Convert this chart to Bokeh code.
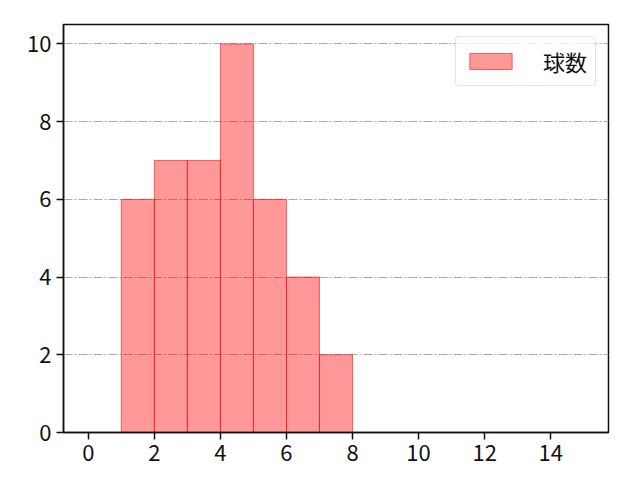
from bokeh.plotting import figure
from bokeh.models import FixedTicker, Range1d, Legend, LegendItem
from bokeh.embed import file_html
from bokeh.resources import INLINE

# histogram data: bin edges and counts
bin_edges = [1, 2, 3, 4, 5, 6, 7, 8]
counts = [6, 7, 7, 10, 6, 4, 2]
series_name = "球数"
x_ticks = [0, 2, 4, 6, 8, 10, 12, 14]
y_ticks = [0, 2, 4, 6, 8, 10]

FONT = "Noto Sans CJK JP"

p = figure(width=624, height=472, output_backend="svg", toolbar_location=None,
           x_range=Range1d(-0.75, 15.75), y_range=Range1d(0, 10.5),
           min_border_left=63, min_border_right=16, min_border_top=24,
           min_border_bottom=40)

bars = p.quad(left=bin_edges[:-1], right=bin_edges[1:], bottom=0, top=counts,
              fill_color="red", fill_alpha=0.4,
              line_color="red", line_alpha=0.55, line_width=1)

p.outline_line_color = "#111111"
p.outline_line_width = 1.5
p.outline_line_alpha = 1

for ax in (p.xaxis[0], p.yaxis[0]):
    ax.axis_line_color = "#111111"
    ax.axis_line_width = 1.5
    ax.major_tick_line_color = "#111111"
    ax.major_tick_line_width = 1.5
    ax.major_tick_out = 7
    ax.major_tick_in = 0
    ax.minor_tick_line_color = None
    ax.major_label_text_font = FONT
    ax.major_label_text_font_size = "22px"
    ax.major_label_text_color = "#111111"
    ax.major_label_standoff = 5

p.xaxis.ticker = FixedTicker(ticks=x_ticks)
p.yaxis.ticker = FixedTicker(ticks=y_ticks)

p.xgrid.grid_line_color = None
p.ygrid.grid_line_color = "#aaaaaa"
p.ygrid.grid_line_dash = "9 2 2 2"
p.ygrid.grid_line_width = 1

legend = Legend(items=[LegendItem(label=series_name, renderers=[bars])],
                location="top_right")
legend.label_text_font = FONT
legend.label_text_font_size = "22px"
legend.label_text_color = "#111111"
legend.glyph_width = 53
legend.glyph_height = 20
legend.label_standoff = 26
legend.padding = 8
legend.margin = 12
legend.border_line_color = "#cccccc"
legend.border_line_width = 1
legend.border_radius = 4
legend.background_fill_alpha = 0.8
p.add_layout(legend)

open("out.html", "w").write(file_html(p, INLINE))
